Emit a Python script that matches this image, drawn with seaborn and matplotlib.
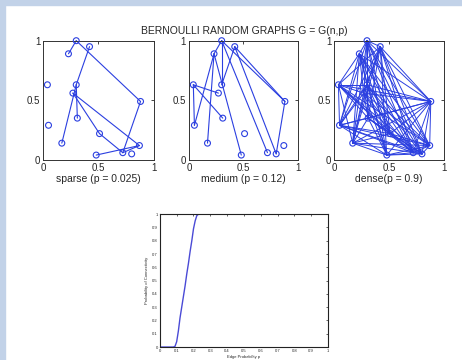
import itertools
import pandas as pd
import seaborn as sns
import matplotlib.pyplot as plt
from matplotlib.patches import Rectangle

# --- dati ---
nodi_x = [0.30, 0.42, 0.23, 0.04, 0.30, 0.27, 0.31, 0.05, 0.88, 0.51, 0.17, 0.87, 0.72, 0.80, 0.48]
nodi_y = [1.00, 0.95, 0.89, 0.63, 0.63, 0.56, 0.35, 0.29, 0.49, 0.22, 0.14, 0.12, 0.06, 0.05, 0.04]

archi_sparse = [(0, 2), (0, 8), (1, 4), (4, 6), (4, 10), (5, 9), (5, 11),
                (8, 12), (9, 12), (14, 11), (12, 11)]
archi_medium = [(0, 8), (1, 8), (0, 2), (0, 4), (0, 12), (1, 13), (1, 4),
                (2, 10), (2, 14), (3, 7), (3, 5), (3, 6), (7, 2), (8, 13)]
# grafo denso: tutte le coppie tranne queste
mancanti_dense = [(7, 10), (3, 14), (2, 6), (5, 13), (9, 14), (1, 2),
                  (6, 11), (10, 12), (4, 5), (0, 3)]

etichette = ['sparse (p = 0.025)', 'medium (p = 0.12)', 'dense(p = 0.9)']

p_edge = [0.0, 0.05, 0.08, 0.09, 0.10, 0.11, 0.12, 0.13, 0.14, 0.15, 0.16, 0.17,
          0.18, 0.19, 0.20, 0.21, 0.22, 0.23, 0.25, 0.5, 1.0]
p_conn = [0.0, 0.0, 0.0, 0.005, 0.04, 0.12, 0.22, 0.30, 0.38, 0.46, 0.55, 0.63,
          0.72, 0.80, 0.89, 0.95, 0.99, 1.0, 1.0, 1.0, 1.0]

archi_dense = [c for c in itertools.combinations(range(len(nodi_x)), 2) if c not in mancanti_dense]

# --- figura ---
sns.set_style('white')
plt.rcParams['font.family'] = ['Liberation Sans', 'DejaVu Sans']

fig = plt.figure(figsize=(4.62, 3.6), dpi=100)
fig.patches.append(Rectangle((0, 0), 5 / 462, 1, transform=fig.transFigure, color='#c2d2e8', zorder=0))
fig.patches.append(Rectangle((0, 1 - 5 / 360), 1, 5 / 360, transform=fig.transFigure, color='#c2d2e8', zorder=0))

blu = '#2b3fe0'
posizioni = [[0.093, 0.556, 0.240, 0.331], [0.409, 0.556, 0.236, 0.331], [0.723, 0.556, 0.238, 0.331]]
df_nodi = pd.DataFrame({'x': nodi_x, 'y': nodi_y})

for pos, archi, lab in zip(posizioni, [archi_sparse, archi_medium, archi_dense], etichette):
    ax = fig.add_axes(pos)
    lw = 0.7 if archi is archi_dense else 0.8
    for i, j in archi:
        ax.plot([nodi_x[i], nodi_x[j]], [nodi_y[i], nodi_y[j]], color=blu, lw=lw, zorder=2, clip_on=False)
    sns.scatterplot(data=df_nodi, x='x', y='y', ax=ax, marker='o', s=18,
                    facecolors='none', edgecolor=blu, linewidth=0.8, zorder=3, clip_on=False)
    ax.set_xlim(0, 1)
    ax.set_ylim(0, 1)
    ax.set_xticks([0, 0.5, 1], ['0', '0.5', '1'])
    ax.set_yticks([0, 0.5, 1], ['0', '0.5', '1'])
    ax.tick_params(direction='in', length=2, width=0.6, labelsize=7, top=True, right=True, pad=2)
    ax.set_xlabel(lab, fontsize=7.5, labelpad=1)
    ax.set_ylabel('')
    for s in ax.spines.values():
        s.set_linewidth(0.7)
        s.set_color('#333333')

fig.text(0.528, 0.914, 'BERNOULLI RANDOM GRAPHS G = G(n,p)', fontsize=7.5, ha='center', va='center')

# grafico inferiore
ax2 = fig.add_axes([0.346, 0.036, 0.364, 0.369])
df_curva = pd.DataFrame({'p': p_edge, 'conn': p_conn})
sns.lineplot(data=df_curva, x='p', y='conn', ax=ax2, color='#4a4ad6', lw=1.0)
ax2.set_xlim(0, 1)
ax2.set_ylim(0, 1)
tick = [i / 10 for i in range(11)]
lab_tick = ['0'] + [f'{t:.1f}' for t in tick[1:-1]] + ['1']
ax2.set_xticks(tick, lab_tick)
ax2.set_yticks(tick, lab_tick)
ax2.tick_params(direction='in', length=1.5, width=0.5, labelsize=3, top=True, right=True, pad=1.5)
ax2.set_xlabel('Edge Probability p', fontsize=3, labelpad=1)
ax2.set_ylabel('Probability of Connectivity', fontsize=3, labelpad=2)
for s in ax2.spines.values():
    s.set_linewidth(0.8)
    s.set_color('#222222')

fig.savefig('out.png', dpi=100)
